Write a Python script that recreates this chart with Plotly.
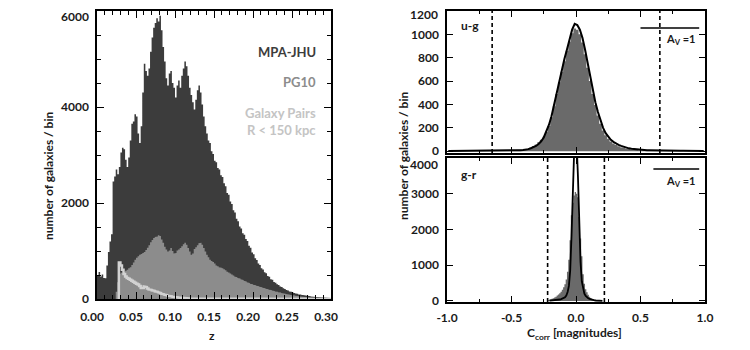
import numpy as np
import plotly.graph_objects as go

# ---------------- data: left panel (redshift histograms, bin width 0.002) ----------------
Z_BIN = 0.002
MPA_START = 0.000
mpa_counts = [480, 560, 470, 510, 440, 430, 700, 980, 1200, 1350,
              2450, 2550, 2700, 2600, 2750, 3050, 3150, 3120, 2900, 2750,
              2950, 3300, 3650, 3700, 3850, 3800, 3450, 3250, 3600, 4300,
              4900, 4750, 4650, 4800, 5150, 5450, 5650, 5750, 5850, 5780,
              5900, 5600, 5250, 4950, 4600, 4450, 4700, 4750, 4500, 4400,
              4200, 4450, 4550, 4400, 4650, 4800, 4950, 4850, 4650, 4400,
              4250, 4100, 3950, 4150, 4350, 4450, 4300, 4050, 3800, 3600,
              3450, 3300, 3250, 3080, 3020, 2880, 2850, 2730, 2700, 2580,
              2540, 2410, 2350, 2210, 2170, 2030, 1980, 1850, 1800, 1670,
              1620, 1510, 1470, 1370, 1340, 1250, 1210, 1110, 1070, 970,
              930, 850, 810, 740, 710, 640, 615, 555, 535, 480,
              465, 410, 400, 355, 340, 305, 290, 262, 248, 222,
              208, 188, 178, 158, 150, 134, 127, 113, 108, 96,
              92, 82, 80, 70, 68, 61, 59, 53, 51, 46,
              45, 40, 39, 35, 33, 30, 28, 26, 24, 22]

PG10_START = 0.022
pg10_counts = [0, 150, 350, 520, 550, 540, 560, 590, 610, 640,
               660, 710, 760, 820, 860, 890, 920, 940, 960, 980,
               1020, 1070, 1120, 1180, 1230, 1270, 1290, 1300, 1330, 1310,
               1240, 1170, 1090, 1030, 990, 1010, 1060, 1000, 950, 960,
               1010, 1030, 1060, 1100, 1140, 1170, 1130, 1060, 990, 920,
               950, 1040, 1080, 1120, 1160, 1170, 1130, 1060, 990, 920,
               870, 820, 790, 770, 740, 700, 680, 660, 650, 640,
               620, 600, 570, 550, 530, 510, 490, 470, 455, 440,
               425, 410, 395, 380, 365, 350, 335, 320, 305, 295,
               285, 275, 265, 255, 245, 235, 225, 215, 205, 195,
               185, 175, 166, 157, 149, 141, 133, 125, 118, 111,
               104, 97, 90, 84, 78, 72, 66, 60, 55, 50,
               46, 42, 38, 35, 32, 29, 26, 24, 22, 20,
               18, 16, 14, 13, 12, 11, 10, 9, 8]

PAIRS_START = 0.028
pairs_counts = [760, 700, 610, 520, 470, 440, 420, 400, 380, 360,
                340, 320, 300, 270, 230, 230, 260, 250, 220, 200,
                190, 180, 170, 160, 150, 140, 125, 112, 100, 90,
                80, 70, 62, 55, 48, 42, 37, 33, 29, 25,
                22, 19, 17, 15, 14, 13, 12, 11, 10, 10,
                9, 9, 8, 8, 7, 7, 7, 6, 6, 6,
                5, 5, 5, 5, 4, 4, 4, 4, 4, 3,
                3, 3, 3, 3, 3, 3, 2, 2, 2, 2,
                2, 2, 2, 2, 2, 2, 2, 1, 1, 1,
                1, 1, 1, 1, 1, 1, 1, 1, 1, 1,
                1, 1, 1, 1, 1, 1, 1, 1, 1, 1,
                1, 1, 1, 1, 1, 1, 1, 1, 1, 1,
                1, 1, 1, 1, 1, 1, 1, 1, 1, 1,
                1, 1, 1, 1, 1, 1]

left_labels = ["MPA-JHU", "PG10", "Galaxy Pairs<br>R < 150 kpc"]

# ---------------- data: right panels (colour corrections) ----------------
UG_BIN = 0.02
UG_START = -1.00
ug_fill = [2, 2, 2, 3, 2, 3, 3, 3, 3, 4, 3, 4, 4, 4, 5, 5, 5, 6, 6, 7,
           7, 8, 8, 9, 9, 10, 11, 12, 13, 14,
           15, 22, 32, 44, 58, 76, 98, 125, 165, 215,
           290, 385, 490, 590, 680, 770, 860, 940, 1010, 1050,
           1040, 1000, 930, 830, 715, 600, 490, 395, 305, 235,
           178, 137, 106, 84, 66, 53, 43, 35, 29, 24,
           19, 16, 13, 11, 9, 8,
           7, 6, 6, 5, 5, 4, 4, 4, 3, 3, 3, 3, 2, 2, 2, 2, 2, 2, 1, 1, 1, 1, 1, 1]
ug_line = [3, 3, 4, 3, 4, 4, 3, 5, 4, 5, 4, 5, 5, 4, 6, 5, 6, 5, 6, 6,
           7, 6, 7, 7, 8, 7, 8, 8, 9, 10,
           12, 18, 26, 34, 45, 62, 85, 118, 165, 225,
           300, 400, 510, 610, 700, 790, 870, 960, 1040, 1090,
           1080, 1040, 970, 870, 750, 630, 520, 420, 335, 260,
           200, 155, 120, 97, 80, 66, 55, 46, 38, 31,
           25, 21, 18, 15, 13, 11,
           10, 9, 9, 8, 8, 7, 7, 6, 6, 6, 5, 5, 5, 4, 4, 4, 4, 3, 3, 3, 3, 3, 2, 2]

GR_BIN = 0.01
GR_FILL_START = -0.22
gr_fill = [25, 35, 45, 60, 75, 95, 120, 150, 180, 215,
           260, 310, 380, 470, 600, 820, 1150, 1700, 2400, 2750,
           2950, 3050, 3000, 2900, 2350, 1750, 1250, 750, 480, 330,
           240, 170, 115, 80, 55, 38, 26, 18, 12, 8]
GR_LINE_START = -0.21
gr_line = [8, 10, 12, 15, 18, 22, 27, 33, 40, 50,
           62, 80, 105, 150, 250, 420, 850, 1800, 3100, 4100,
           4500, 4400, 3500, 2200, 1100, 550, 320, 200, 140, 100,
           75, 55, 40, 30, 22, 16, 12, 9, 7, 5, 4, 3]

ug_limits = [-0.65, 0.65]
gr_limits = [-0.22, 0.22]
av_bar_ug = [0.50, 0.955, 1055]
av_bar_gr = [0.60, 0.955, 3690]

z_ticks = [0, 0.05, 0.10, 0.15, 0.20, 0.25, 0.30]
z_ticktext = ["0.00", "0.05", "0.10", "0.15", "0.20", "0.25", "0.30"]
n_ticks_left = [0, 2000, 4000, 6000]
n_ticks_ug = [0, 200, 400, 600, 800, 1000, 1200]
n_ticks_gr = [0, 1000, 2000, 3000, 4000]
c_ticks = [-1, -0.5, 0, 0.5, 1]
c_ticktext = ["-1.0", "-0.5", "0.0", "0.5", "1.0"]

# ---------------- helpers ----------------
def step_xy(start, width, vals):
    vals = np.asarray(vals, dtype=float)
    edges = start + width * np.arange(len(vals) + 1)
    xs = np.concatenate([[edges[0]], np.repeat(edges, 2)[1:-1], [edges[-1]]])
    ys = np.concatenate([[0.0], np.repeat(vals, 2), [0.0]])
    return xs, ys

def centers(start, width, n):
    return start + width * (np.arange(n) + 0.5)

DARK = "#3c3c3c"
MID = "#8c8c8c"
LIGHT = "#d2d2d2"
FILL_R = "#6a6a6a"
FONT = "Lato"

fig = go.Figure()

# left panel
x, y = step_xy(MPA_START, Z_BIN, mpa_counts)
fig.add_trace(go.Scatter(x=x, y=y, mode="lines", line=dict(width=0, color=DARK),
                         fill="tozeroy", fillcolor=DARK, xaxis="x", yaxis="y"))
x, y = step_xy(PG10_START, Z_BIN, pg10_counts)
fig.add_trace(go.Scatter(x=x, y=y, mode="lines", line=dict(width=0, color=MID),
                         fill="tozeroy", fillcolor=MID, xaxis="x", yaxis="y"))
x, y = step_xy(PAIRS_START, Z_BIN, pairs_counts)
fig.add_trace(go.Scatter(x=x, y=y, mode="lines", line=dict(width=2.5, color=LIGHT),
                         xaxis="x", yaxis="y"))

# right top u-g
x, y = step_xy(UG_START, UG_BIN, ug_fill)
fig.add_trace(go.Scatter(x=x, y=y, mode="lines", line=dict(width=0, color=FILL_R),
                         fill="tozeroy", fillcolor=FILL_R, xaxis="x2", yaxis="y2"))
fig.add_trace(go.Scatter(x=centers(UG_START, UG_BIN, len(ug_line)), y=ug_line, mode="lines",
                         line=dict(width=2, color="black"), xaxis="x2", yaxis="y2"))
# right bottom g-r
x, y = step_xy(GR_FILL_START, GR_BIN, gr_fill)
fig.add_trace(go.Scatter(x=x, y=y, mode="lines", line=dict(width=0, color=FILL_R),
                         fill="tozeroy", fillcolor=FILL_R, xaxis="x3", yaxis="y3"))
fig.add_trace(go.Scatter(x=centers(GR_LINE_START, GR_BIN, len(gr_line)), y=gr_line, mode="lines",
                         line=dict(width=1.8, color="black"), xaxis="x3", yaxis="y3"))

# page has an 8px body margin: figure is 742x342 and target pixel positions are offset by 8
OFF = 8
W, H = 750 - OFF, 350 - OFF
def px(xp): return (xp - OFF) / W
def py(yp): return 1 - (yp - OFF) / H

tickfont = dict(family=FONT, size=12, color="#1a1a1a", weight="bold")
axcommon = dict(showline=True, linecolor="black", linewidth=1.5, mirror="ticks",
                ticks="inside", tickcolor="black", tickwidth=1.2, showgrid=False,
                zeroline=False, tickfont=tickfont, automargin=False, ticklabeloverflow="allow")

def blank_last(labels):
    return [str(v) for v in labels[:-1]] + [""]

fig.update_layout(
    template="none",
    width=W, height=H, margin=dict(l=0, r=0, t=0, b=0, pad=0),
    paper_bgcolor="white", plot_bgcolor="white", showlegend=False,
    xaxis=dict(domain=[px(97), px(331)], range=[0, 0.30], anchor="y",
               tickvals=z_ticks, ticktext=z_ticktext,
               ticklen=7, ticklabelstandoff=6, ticklabelshift=-5,
               minor=dict(ticks="inside", dtick=0.01, ticklen=4, tickcolor="black", tickwidth=1),
               **axcommon),
    yaxis=dict(domain=[py(299), py(11)], range=[0, 6000], anchor="x",
               tickvals=n_ticks_left, ticktext=blank_last(n_ticks_left),
               ticklen=7, ticklabelstandoff=4,
               minor=dict(ticks="inside", dtick=500, ticklen=4, tickcolor="black", tickwidth=1),
               **axcommon),
    xaxis2=dict(domain=[px(447), px(705)], range=[-1, 1], anchor="y2",
                dtick=0.5, showticklabels=False, ticklen=6,
                minor=dict(ticks="inside", dtick=0.25, ticklen=3, tickcolor="black", tickwidth=1),
                **axcommon),
    yaxis2=dict(domain=[py(153), py(11)], range=[-15, 1200], anchor="x2",
                tickvals=n_ticks_ug, ticktext=blank_last(n_ticks_ug),
                ticklen=6, ticklabelstandoff=4, **axcommon),
    xaxis3=dict(domain=[px(447), px(705)], range=[-1, 1], anchor="y3",
                tickvals=c_ticks, ticktext=c_ticktext,
                ticklen=6, ticklabelstandoff=4,
                minor=dict(ticks="inside", dtick=0.25, ticklen=3, tickcolor="black", tickwidth=1),
                **axcommon),
    yaxis3=dict(domain=[py(302), py(158)], range=[-30, 4000], anchor="x3",
                tickvals=n_ticks_gr, ticktext=blank_last(n_ticks_gr),
                ticklen=6, ticklabelstandoff=4, **axcommon),
)

shapes = []
for xv in ug_limits:
    shapes.append(dict(type="line", xref="x2", yref="y2 domain", x0=xv, x1=xv, y0=0, y1=1,
                       line=dict(color="black", width=1.6, dash="4px,3px")))
for xv in gr_limits:
    shapes.append(dict(type="line", xref="x3", yref="y3 domain", x0=xv, x1=xv, y0=0, y1=1,
                       line=dict(color="black", width=1.6, dash="4px,3px")))
shapes.append(dict(type="line", xref="x2", yref="y2", x0=av_bar_ug[0], x1=av_bar_ug[1],
                   y0=av_bar_ug[2], y1=av_bar_ug[2], line=dict(color="black", width=1.5)))
shapes.append(dict(type="line", xref="x3", yref="y3", x0=av_bar_gr[0], x1=av_bar_gr[1],
                   y0=av_bar_gr[2], y1=av_bar_gr[2], line=dict(color="black", width=1.5)))
fig.update_layout(shapes=shapes)

lblfont = dict(family=FONT, size=13, weight="bold")
ann = [
    dict(text=left_labels[0], x=px(318), y=py(52), font=dict(color=DARK, **lblfont)),
    dict(text=left_labels[1], x=px(318), y=py(82), font=dict(color=MID, **lblfont)),
    dict(text=left_labels[2], x=px(318), y=py(121), font=dict(color="#c4c4c4", **lblfont)),
]
for a in ann:
    a.update(xref="paper", yref="paper", xanchor="right", yanchor="middle", showarrow=False, align="right")
ttl = dict(family=FONT, size=12, color="#1a1a1a", weight="bold")
ann += [
    dict(text="number of galaxies / bin", x=px(48), y=py(176), textangle=-90, font=ttl,
         xref="paper", yref="paper", xanchor="center", yanchor="middle", showarrow=False),
    dict(text="number of galaxies / bin", x=px(403), y=py(156), textangle=-90, font=ttl,
         xref="paper", yref="paper", xanchor="center", yanchor="middle", showarrow=False),
    dict(text="z", x=px(212), y=py(335), font=ttl,
         xref="paper", yref="paper", xanchor="center", yanchor="middle", showarrow=False),
    dict(text="C<sub>corr</sub> [magnitudes]", x=px(574), y=py(333), font=ttl,
         xref="paper", yref="paper", xanchor="center", yanchor="middle", showarrow=False),
    # top-of-axis tick labels, nudged inside like the reference
    dict(text=str(n_ticks_left[-1]), x=px(90), y=py(8), font=tickfont,
         xref="paper", yref="paper", xanchor="right", yanchor="top", showarrow=False, borderpad=0),
    dict(text=str(n_ticks_ug[-1]), x=px(440), y=py(14), font=tickfont,
         xref="paper", yref="paper", xanchor="right", yanchor="middle", showarrow=False),
    dict(text=str(n_ticks_gr[-1]), x=px(440), y=py(165), font=tickfont,
         xref="paper", yref="paper", xanchor="right", yanchor="middle", showarrow=False),
    dict(text="u-g", x=-0.91, y=1075, xref="x2", yref="y2", xanchor="left", yanchor="middle",
         showarrow=False, font=dict(family=FONT, size=12, color="#1a1a1a", weight="bold")),
    dict(text="g-r", x=-0.91, y=3530, xref="x3", yref="y3", xanchor="left", yanchor="middle",
         showarrow=False, font=dict(family=FONT, size=12, color="#1a1a1a", weight="bold")),
    dict(text="A<sub>V</sub> =1", x=0.94, y=960, xref="x2", yref="y2", xanchor="right", yanchor="middle",
         showarrow=False, font=dict(family=FONT, size=11, color="#1a1a1a", weight="bold")),
    dict(text="A<sub>V</sub> =1", x=0.94, y=3350, xref="x3", yref="y3", xanchor="right", yanchor="middle",
         showarrow=False, font=dict(family=FONT, size=11, color="#1a1a1a", weight="bold")),
]
fig.update_layout(annotations=ann)

fig.write_html("out.html")
